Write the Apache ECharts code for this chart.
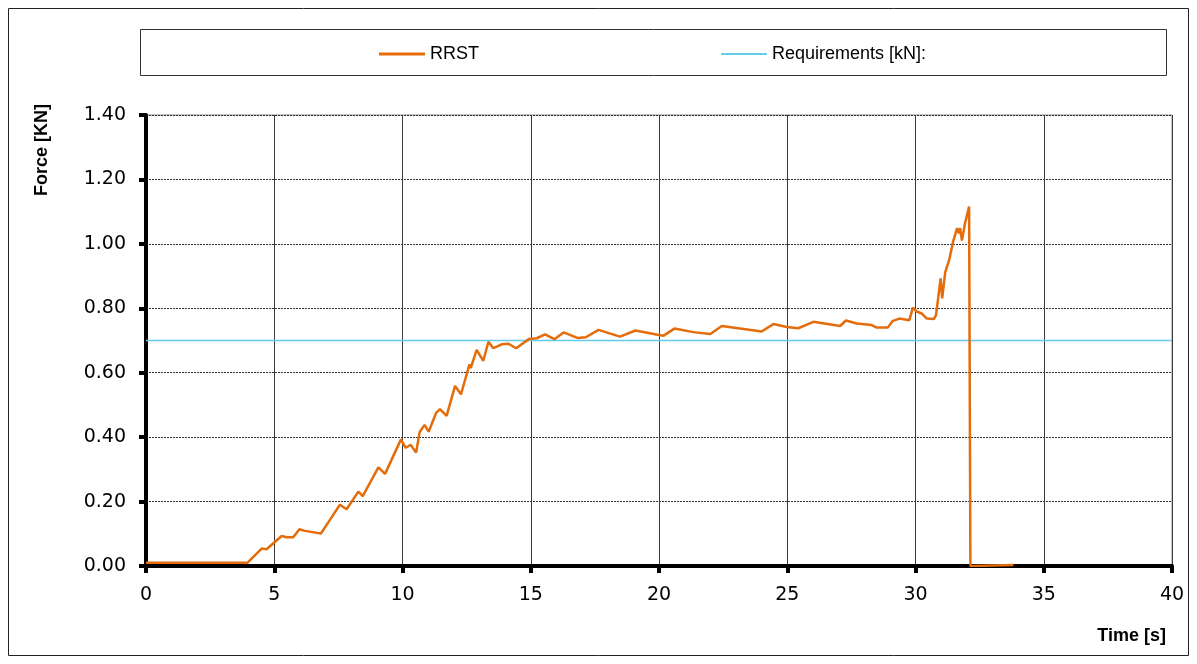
<!DOCTYPE html>
<html>
<head>
<meta charset="utf-8">
<script src="https://cdn.jsdelivr.net/npm/echarts@6/dist/echarts.min.js"></script>
<style>html,body{margin:0;padding:0;background:#fff;}#c{width:1197px;height:664px;}</style>
</head>
<body>
<div id="c"></div>
<script>
const seriesNames = ['RRST', 'Requirements [kN]:'];
const rrstTime = [0, 3.95, 4.51, 4.70, 5.29, 5.48, 5.74, 5.98, 6.20, 6.82, 7.17, 7.56, 7.82, 8.28, 8.45, 9.06, 9.32, 9.94, 10.12, 10.32, 10.53, 10.67, 10.86, 11.02, 11.31, 11.46, 11.72, 12.05, 12.28, 12.61, 12.66, 12.89, 13.15, 13.35, 13.54, 13.87, 14.13, 14.43, 14.94, 15.23, 15.56, 15.92, 16.28, 16.82, 17.15, 17.64, 18.48, 19.08, 19.95, 20.18, 20.60, 21.34, 22.00, 22.45, 24.00, 24.46, 24.98, 25.43, 26.02, 27.06, 27.29, 27.71, 28.29, 28.49, 28.92, 29.10, 29.37, 29.76, 29.90, 30.05, 30.26, 30.44, 30.72, 30.80, 30.98, 31.04, 31.16, 31.32, 31.47, 31.62, 31.69, 31.74, 31.81, 31.93, 32.09, 32.14, 33.82];
const rrstForce = [0.010, 0.010, 0.054, 0.052, 0.093, 0.089, 0.089, 0.114, 0.109, 0.101, 0.143, 0.190, 0.176, 0.231, 0.217, 0.306, 0.286, 0.393, 0.367, 0.376, 0.352, 0.416, 0.438, 0.417, 0.475, 0.487, 0.466, 0.559, 0.533, 0.626, 0.614, 0.671, 0.637, 0.696, 0.676, 0.688, 0.690, 0.676, 0.705, 0.707, 0.719, 0.704, 0.725, 0.708, 0.710, 0.733, 0.712, 0.731, 0.718, 0.715, 0.737, 0.726, 0.720, 0.745, 0.728, 0.751, 0.742, 0.738, 0.758, 0.745, 0.762, 0.753, 0.748, 0.740, 0.740, 0.760, 0.768, 0.763, 0.802, 0.790, 0.783, 0.768, 0.767, 0.779, 0.893, 0.831, 0.912, 0.952, 1.008, 1.049, 1.033, 1.049, 1.010, 1.064, 1.116, 0.000, 0.003];
const reqTime = [0, 40];
const reqForce = [0.70, 0.70];
const xTicks = {min: 0, max: 40, interval: 5};
const yTicks = {min: 0, max: 1.4, interval: 0.2};
const axisTitles = {x: 'Time [s]', y: 'Force [KN]'};

const chart = echarts.init(document.getElementById('c'));
const zip = (a, b) => a.map((v, i) => [v, b[i]]);
const tickFont = {fontFamily: 'DejaVu Sans', fontSize: 19, color: '#000'};
const legendText = {fontFamily: 'Liberation Sans', fontSize: 18, color: '#000'};
chart.setOption({
  animation: false,
  backgroundColor: '#fff',
  grid: {left: 146, right: 25, top: 115, bottom: 98, show: true, borderColor: '#8c8c8c', borderWidth: 1, backgroundColor: 'transparent'},
  legend: [
    {data: [seriesNames[0]], left: 374, top: 40, icon: 'rect', itemWidth: 46, itemHeight: 3, itemGap: 0, textStyle: legendText},
    {data: [seriesNames[1]], left: 716, top: 40, icon: 'rect', itemWidth: 46, itemHeight: 2, itemGap: 0, textStyle: legendText}
  ],
  xAxis: {
    type: 'value', min: xTicks.min, max: xTicks.max, interval: xTicks.interval,
    axisLine: {lineStyle: {color: '#000', width: 4}},
    axisTick: {show: true, length: 7, lineStyle: {color: '#000', width: 4}},
    axisLabel: Object.assign({margin: 20}, tickFont),
    splitLine: {show: true, lineStyle: {color: '#3a3a3a', width: 1, type: 'solid'}}
  },
  yAxis: {
    type: 'value', min: yTicks.min, max: yTicks.max, interval: yTicks.interval,
    axisLine: {show: true, lineStyle: {color: '#000', width: 4}},
    axisTick: {show: true, length: 7, lineStyle: {color: '#000', width: 4}},
    axisLabel: Object.assign({margin: 20, formatter: v => v.toFixed(2)}, tickFont),
    splitLine: {show: true, lineStyle: {color: '#333', width: 1, type: [2, 1]}}
  },
  graphic: [
    {type: 'rect', shape: {x: 8.5, y: 8.5, width: 1180, height: 647}, style: {fill: 'none', stroke: '#222', lineWidth: 1}, silent: true, z: -10},
    {type: 'rect', shape: {x: 140.5, y: 29.5, width: 1026, height: 46}, style: {fill: 'none', stroke: '#333', lineWidth: 1}, silent: true, z: -10},
    {type: 'text', x: 42, y: 150, rotation: Math.PI / 2, style: {text: axisTitles.y, font: 'bold 18px "Liberation Sans"', fill: '#000', textAlign: 'center', textVerticalAlign: 'middle'}},
    {type: 'text', x: 1166, y: 636, style: {text: axisTitles.x, font: 'bold 18px "Liberation Sans"', fill: '#000', textAlign: 'right', textVerticalAlign: 'middle'}}
  ],
  series: [
    {name: seriesNames[0], type: 'line', data: zip(rrstTime, rrstForce), symbol: 'none', z: 4,
     lineStyle: {color: '#E46C0A', width: 2.5}, itemStyle: {color: '#E46C0A'}},
    {name: seriesNames[1], type: 'line', data: zip(reqTime, reqForce), symbol: 'none', z: 3,
     lineStyle: {color: '#66CCEE', width: 1.5}, itemStyle: {color: '#66CCEE'}}
  ]
});
</script>
</body>
</html>
